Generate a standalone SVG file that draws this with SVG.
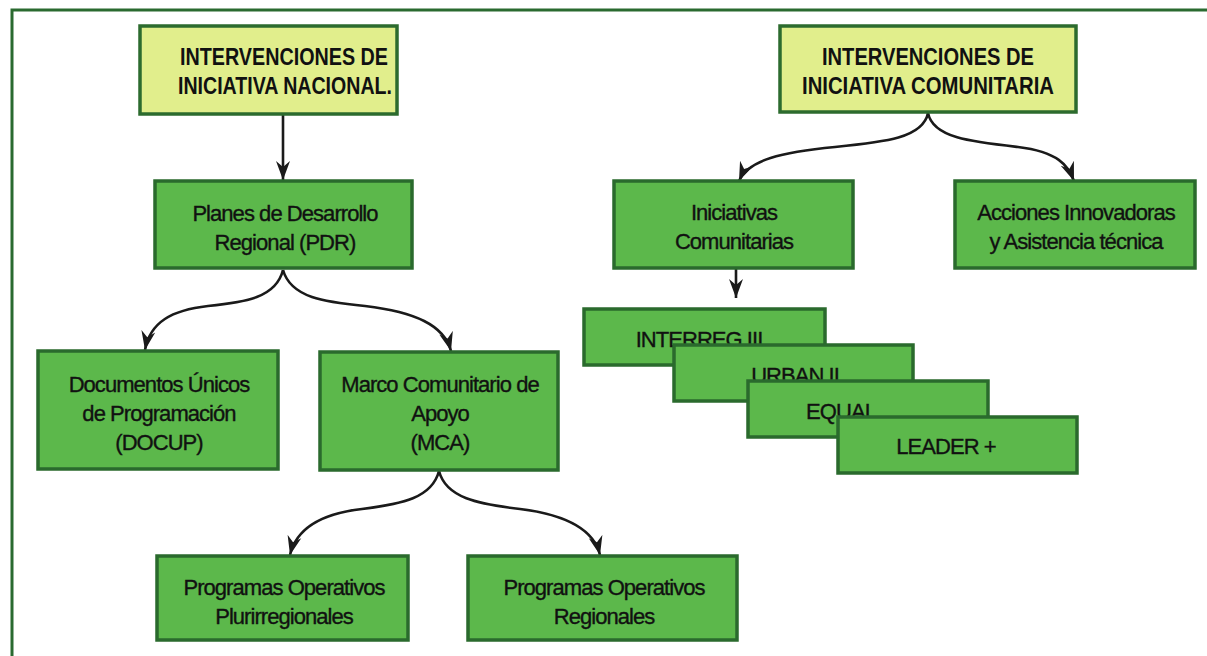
<svg xmlns="http://www.w3.org/2000/svg" width="1207" height="656" viewBox="0 0 1207 656">
<style>
.title{fill:#e1ee8c;stroke:#2c6b2e;stroke-width:3.5}
.box{fill:#5cb84b;stroke:#2a6a2d;stroke-width:3.5}
.t{font-family:"Liberation Sans",Arial,sans-serif;font-size:22px;fill:#111;stroke:#111;stroke-width:0.35;text-anchor:middle;letter-spacing:-0.95px}
.b{font-family:"Liberation Sans",Arial,sans-serif;font-size:23px;font-weight:bold;fill:#111;text-anchor:middle}
.c{fill:none;stroke:#1a1a1a;stroke-width:2.6}
</style>
<defs>
<marker id="ah" markerUnits="userSpaceOnUse" markerWidth="22" markerHeight="16" refX="19" refY="8" orient="auto">
<path d="M0,1 L19,8 L0,15 L6,8 z" fill="#1a1a1a"/>
</marker>
</defs>
<rect width="1207" height="656" fill="#fff"/>
<g id="frame">
<path d="M12,656 L12,10 L1207,10" fill="none" stroke="#2a6a30" stroke-width="3"/>
</g>
<g id="connectors">
<path class="c" d="M283,114 L283,180" marker-end="url(#ah)"/>
<path class="c" d="M283,270 C276,298 245,302 208,306 C172,310 150,322 145,350" marker-end="url(#ah)"/>
<path class="c" d="M283,270 C291,298 325,302 365,306 C415,312 444,325 451,351" marker-end="url(#ah)"/>
<path class="c" d="M439,471 C432,498 402,504 362,509 C318,514 296,530 290,555" marker-end="url(#ah)"/>
<path class="c" d="M439,471 C446,498 478,504 520,509 C568,515 594,530 600,555" marker-end="url(#ah)"/>
<path class="c" d="M928,113 C923,138 885,142 835,147 C782,152 748,160 739,181" marker-end="url(#ah)"/>
<path class="c" d="M928,113 C933,138 972,142 1018,147 C1058,152 1068,165 1074,181" marker-end="url(#ah)"/>
<path class="c" d="M736,268 L736,298" marker-end="url(#ah)"/>
</g>
<g id="n-nacional">
<rect class="title" x="140" y="26" width="257" height="88"/>
<text class="b" x="284" y="65" textLength="208" lengthAdjust="spacingAndGlyphs">INTERVENCIONES DE</text>
<text class="b" x="285" y="94" textLength="214" lengthAdjust="spacingAndGlyphs">INICIATIVA NACIONAL.</text>
</g>
<g id="n-comunitaria">
<rect class="title" x="780" y="26" width="296" height="86"/>
<text class="b" x="928" y="65" textLength="212" lengthAdjust="spacingAndGlyphs">INTERVENCIONES DE</text>
<text class="b" x="928" y="94" textLength="252" lengthAdjust="spacingAndGlyphs">INICIATIVA COMUNITARIA</text>
</g>
<g id="n-planes">
<rect class="box" x="155" y="181" width="257" height="87"/>
<text class="t" x="285" y="221">Planes de Desarrollo</text>
<text class="t" x="285" y="250">Regional (PDR)</text>
</g>
<g id="n-docup">
<rect class="box" x="38" y="351" width="240" height="118"/>
<text class="t" x="159" y="392">Documentos Únicos</text>
<text class="t" x="159" y="421">de Programación</text>
<text class="t" x="159" y="450">(DOCUP)</text>
</g>
<g id="n-mca">
<rect class="box" x="320" y="352" width="238" height="118"/>
<text class="t" x="440" y="392">Marco Comunitario de</text>
<text class="t" x="440" y="421">Apoyo</text>
<text class="t" x="440" y="450">(MCA)</text>
</g>
<g id="n-pluri">
<rect class="box" x="157" y="556" width="251" height="84"/>
<text class="t" x="284" y="595">Programas Operativos</text>
<text class="t" x="284" y="624">Plurirregionales</text>
</g>
<g id="n-regionales">
<rect class="box" x="468" y="556" width="269" height="84"/>
<text class="t" x="604" y="595">Programas Operativos</text>
<text class="t" x="604" y="624">Regionales</text>
</g>
<g id="n-iniciativas">
<rect class="box" x="614" y="181" width="239" height="87"/>
<text class="t" x="734" y="220">Iniciativas</text>
<text class="t" x="734" y="249">Comunitarias</text>
</g>
<g id="n-acciones">
<rect class="box" x="955" y="181" width="240" height="87"/>
<text class="t" x="1076" y="220">Acciones Innovadoras</text>
<text class="t" x="1076" y="249">y Asistencia técnica</text>
</g>
<g id="n-interreg">
<rect class="box" x="584" y="309" width="241" height="56"/>
<text class="t" x="699" y="347">INTERREG III</text>
</g>
<g id="n-urban">
<rect class="box" x="674" y="345" width="239" height="56"/>
<text class="t" x="795" y="383">URBAN II</text>
</g>
<g id="n-equal">
<rect class="box" x="748" y="381" width="240" height="56"/>
<text class="t" x="841" y="419">EQUAL</text>
</g>
<g id="n-leader">
<rect class="box" x="838" y="417" width="239" height="56"/>
<text class="t" x="946" y="454">LEADER +</text>
</g>
</svg>
